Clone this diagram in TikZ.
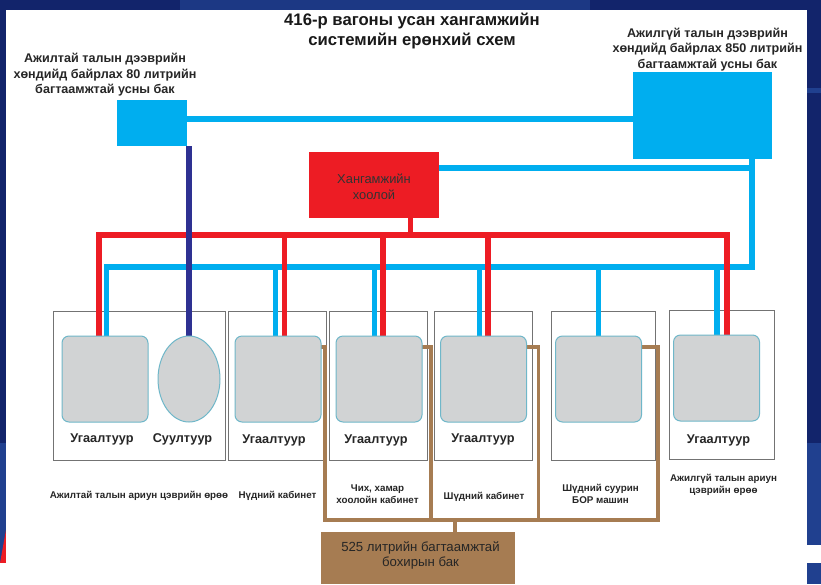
\documentclass[tikz,border=0pt]{standalone}
\usepackage{fontspec}
\setmainfont{Liberation Sans}
\usetikzlibrary{shapes.geometric}
\definecolor{navybg}{HTML}{12246B}
\definecolor{lightbg}{HTML}{20408F}
\definecolor{coldblue}{HTML}{00AEEF}
\definecolor{hotred}{HTML}{ED1C24}
\definecolor{wcblue}{HTML}{2E3192}
\definecolor{drainbrown}{HTML}{A67C52}
\definecolor{sinkgray}{HTML}{D1D3D4}
\definecolor{sinkedge}{HTML}{6FB7C9}
\tikzset{
    coldpipe/.style={draw=coldblue, line width=5.5pt, line cap=rect},
    hotpipe/.style={draw=hotred, line width=5.3pt, line cap=rect},
    wcpipe/.style={draw=wcblue, line width=5.6pt},
    drainpipe/.style={draw=drainbrown, line width=3.2pt, line cap=rect},
    room/.style={draw=black!55, line width=1pt, inner sep=0pt, outer sep=0pt},
    sink/.style={draw=sinkedge, line width=1pt, fill=sinkgray, rounded corners=7pt,
        minimum width=86pt, minimum height=86pt, inner sep=0pt, outer sep=0pt},
    tank/.style={inner sep=0pt, outer sep=0pt},
    fixture/.style={font=\fontsize{12.7}{14}\selectfont\bfseries, text=black!85},
    caption/.style={font=\fontsize{9.8}{12.4}\selectfont\bfseries, align=center, text=black!85},
    tanklabel/.style={font=\fontsize{12.6}{15.4}\selectfont\bfseries, align=center, text=black!85},
}
\begin{document}
\begin{tikzpicture}[x=1pt, y=-1pt]
    \useasboundingbox (0,0) rectangle (821,584);
    % slide behind the sheet
    \fill[navybg] (0,0) rectangle (821,584);
    \fill[lightbg] (0,443) rectangle (821,584);
    \fill[lightbg!70!navybg] (180,0) rectangle (590,10);
    \fill[lightbg] (807,88) rectangle (821,93);
    \fill[hotred] (0,563) -- (6,530) -- (6,563) -- cycle;
    \fill[white] (0,563) rectangle (6,584);
    \fill[white] (807,545) rectangle (821,563);
    \fill[white] (6,10) rectangle (807,584);

    % rooms
    \foreach \name/\xa/\xb/\ya/\yb in {roomA/53/225.5/311/460, roomB/228/326/311/460,
        roomC/329.5/427/311/460, roomD/434/532/311/460, roomE/551/655.5/311/460, roomF/669/774/310/459}
    {
        \node[room, minimum width=\xb-\xa, minimum height=\yb-\ya] (\name) at ({(\xa+\xb)/2},{(\ya+\yb)/2}) {};
    }

    % sinks are only placed here, they get filled over the pipes below
    \foreach \name/\x/\y in {sinkA/105/379, sinkB/278/379, sinkC/379/379, sinkD/483.5/379, sinkE/598.5/379, sinkF/716.5/378}
    {
        \coordinate (\name top) at (\x,\y-43);
        \coordinate (\name out) at (\x+43,347);
    }
    \coordinate (toilettop) at (189,336);

    % cold water
    \coordinate (smallout) at (187,119);
    \coordinate (bigin) at (633,119);
    \coordinate (heaterout) at (439,168);
    \coordinate (coldL) at (106.5,267);
    \coordinate (coldR) at (752,267);
    \draw[coldpipe] (smallout) -- (bigin);
    \draw[coldpipe] (coldL) -- (coldR) -- (coldR |- bigin);
    \draw[coldpipe] (heaterout) -- (coldR |- heaterout);
    \foreach \name/\x in {sinkA/106.5, sinkB/275.5, sinkC/374.5, sinkD/479.5, sinkE/598.5, sinkF/717}
    {
        \coordinate (tap) at (\x,267);
        \draw[coldpipe] (tap) -- (tap |- \name top);
    }

    % hot water
    \coordinate (hotL) at (99,235);
    \coordinate (hotR) at (727,235);
    \coordinate (heaterdown) at (410.5,215);
    \draw[hotpipe] (hotL) -- (hotR);
    \draw[hotpipe] (heaterdown) -- (heaterdown |- hotL);
    \foreach \name/\x in {sinkA/99, sinkB/284.5, sinkC/383, sinkD/488, sinkF/727}
    {
        \coordinate (tap) at (\x,235);
        \draw[hotpipe] (tap) -- (tap |- \name top);
    }

    % toilet feed
    \coordinate (smalldown) at (189,146);
    \draw[wcpipe] (smalldown) -- (toilettop);

    % drains
    \coordinate (drainL) at (325,520);
    \coordinate (drainR) at (658,520);
    \coordinate (drainC) at (431,520);
    \coordinate (drainD) at (538.5,520);
    \coordinate (drainout) at (455,520);
    \coordinate (drainin) at (455,534);
    \draw[drainpipe] (sinkBout) -- (drainL |- sinkBout) -- (drainL) -- (drainR);
    \draw[drainpipe] (sinkCout) -- (drainC |- sinkCout) -- (drainC);
    \draw[drainpipe] (sinkDout) -- (drainD |- sinkDout) -- (drainD);
    \draw[drainpipe, line width=3.8pt] (sinkEout) -- (drainR |- sinkEout) -- (drainR);
    \draw[drainpipe] (drainout) -- (drainin);

    % tanks
    \node[tank, fill=coldblue, minimum width=70pt, minimum height=46pt] (smalltank) at (152,123) {};
    \node[tank, fill=coldblue, minimum width=139pt, minimum height=87pt] (bigtank) at (702.5,115.5) {};
    \node[tank, fill=hotred, minimum width=130pt, minimum height=66pt] (heater) at (374,185) {};
    \node[tank, fill=drainbrown, minimum width=194pt, minimum height=52pt] (wastetank) at (418,558) {};

    \foreach \name/\x/\y in {sinkA/105/379, sinkB/278/379, sinkC/379/379, sinkD/483.5/379, sinkE/598.5/379, sinkF/716.5/378}
    {
        \node[sink] (\name) at (\x,\y) {};
    }
    \node[draw=sinkedge, line width=1pt, fill=sinkgray, ellipse, minimum width=62pt, minimum height=86pt,
        inner sep=0pt, outer sep=0pt] (toilet) at (189,379) {};

    % labels
    \node[font=\fontsize{12.9}{16}\selectfont, align=center, text=black!80] (heaterlabel) at (374,187) {Хангамжийн\\хоолой};
    \node[font=\fontsize{13.2}{15}\selectfont, align=center, text=black!85] (wastelabel) at (420.5,555.5)
        {525 литрийн багтаамжтай\\бохирын бак};
    \node[font=\fontsize{16.7}{20}\selectfont\bfseries, align=center, text=black!90] (title) at (412,31.5)
        {416-р вагоны усан хангамжийн\\системийн ерөнхий схем};
    \node[tanklabel] (smalllabel) at (105,75) {Ажилтай талын дээврийн\\хөндийд байрлах 80 литрийн\\багтаамжтай усны бак};
    \node[tanklabel] (biglabel) at (707.5,49.5) {Ажилгүй талын дээврийн\\хөндийд байрлах 850 литрийн\\багтаамжтай усны бак};
    \foreach \name/\txt/\x/\y in {fixA/Угаалтуур/102/439, fixB/Суултуур/182.5/439, fixC/Угаалтуур/274/440,
        fixD/Угаалтуур/376/440, fixE/Угаалтуур/483/439, fixF/Угаалтуур/718.5/440}
    {
        \node[fixture] (\name) at (\x,\y) {\txt};
    }
    \node[caption] (capA) at (139,496) {Ажилтай талын ариун цэврийн өрөө};
    \node[caption] (capB) at (277.5,496) {Нүдний кабинет};
    \node[caption] (capC) at (377.5,494) {Чих, хамар\\хоолойн кабинет};
    \node[caption] (capD) at (484,497) {Шүдний кабинет};
    \node[caption] (capE) at (600.5,494) {Шүдний суурин\\БОР машин};
    \node[caption] (capF) at (723.5,485) {Ажилгүй талын ариун\\цэврийн өрөө};
\end{tikzpicture}
\end{document}
